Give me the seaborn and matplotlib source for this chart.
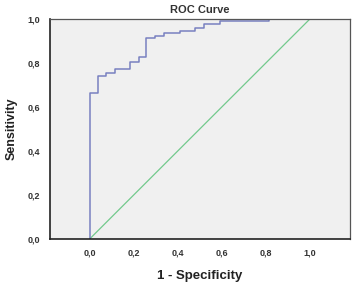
import seaborn as sns
import matplotlib.pyplot as plt
import pandas as pd

# ROC curve points (1 - specificity, sensitivity)
fpr = [0.0, 0.0, 0.038, 0.073, 0.114, 0.185, 0.223, 0.258, 0.295, 0.336,
       0.41, 0.48, 0.52, 0.59, 0.815, 1.0]
tpr = [0.0, 0.665, 0.742, 0.756, 0.771, 0.806, 0.829, 0.914, 0.924, 0.935,
       0.947, 0.959, 0.977, 0.992, 1.0, 1.0]
ref_x = [0.0, 1.0]
ref_y = [0.0, 1.0]
tick_vals = [0.0, 0.2, 0.4, 0.6, 0.8, 1.0]
tick_labels = ["0,0", "0,2", "0,4", "0,6", "0,8", "1,0"]

sns.set_style("white")
plt.rcParams['font.family'] = ['Liberation Sans', 'DejaVu Sans']

fig = plt.figure(figsize=(3.53, 2.83), dpi=100)
ax = fig.add_axes([0.1416, 0.1555, 0.8499, 0.7774])
ax.set_facecolor("#f0f0f0")

roc = pd.DataFrame({"fpr": fpr, "tpr": tpr})
ref = pd.DataFrame({"x": ref_x, "y": ref_y})

sns.lineplot(data=ref, x="x", y="y", color="#72c98c", linewidth=0.9,
             estimator=None, sort=False, ax=ax)
sns.lineplot(data=roc, x="fpr", y="tpr", color="#7880c0", linewidth=1.1,
             drawstyle="steps-post", estimator=None, sort=False, ax=ax)

ax.set_xlim(-0.18, 1.182)
ax.set_ylim(0, 1.0)
ax.set_xticks(tick_vals)
ax.set_xticklabels(tick_labels)
ax.set_yticks(tick_vals)
ax.set_yticklabels(tick_labels)
ax.tick_params(axis="both", labelsize=6.5, width=0.8,
               direction="out", color="#333333")
ax.tick_params(axis="x", length=2.5, pad=4.5)
ax.tick_params(axis="y", length=4, pad=3)
for lab in ax.get_xticklabels() + ax.get_yticklabels():
    lab.set_fontweight("bold")
    lab.set_color("#333333")

for s in ax.spines.values():
    s.set_color("#555555")
    s.set_linewidth(0.9)
ax.spines["left"].set_color("#222222")
ax.spines["bottom"].set_color("#222222")
ax.spines["left"].set_linewidth(1.2)
ax.spines["bottom"].set_linewidth(1.2)

ax.set_title("ROC Curve", fontsize=8, fontweight="bold", color="#333333", pad=4)
ax.set_xlabel("1 - Specificity", fontsize=9.5, fontweight="bold", color="#222222", labelpad=9)
ax.set_ylabel("Sensitivity", fontsize=9, fontweight="bold", color="#222222", labelpad=7)

fig.savefig("out.png", dpi=100)
